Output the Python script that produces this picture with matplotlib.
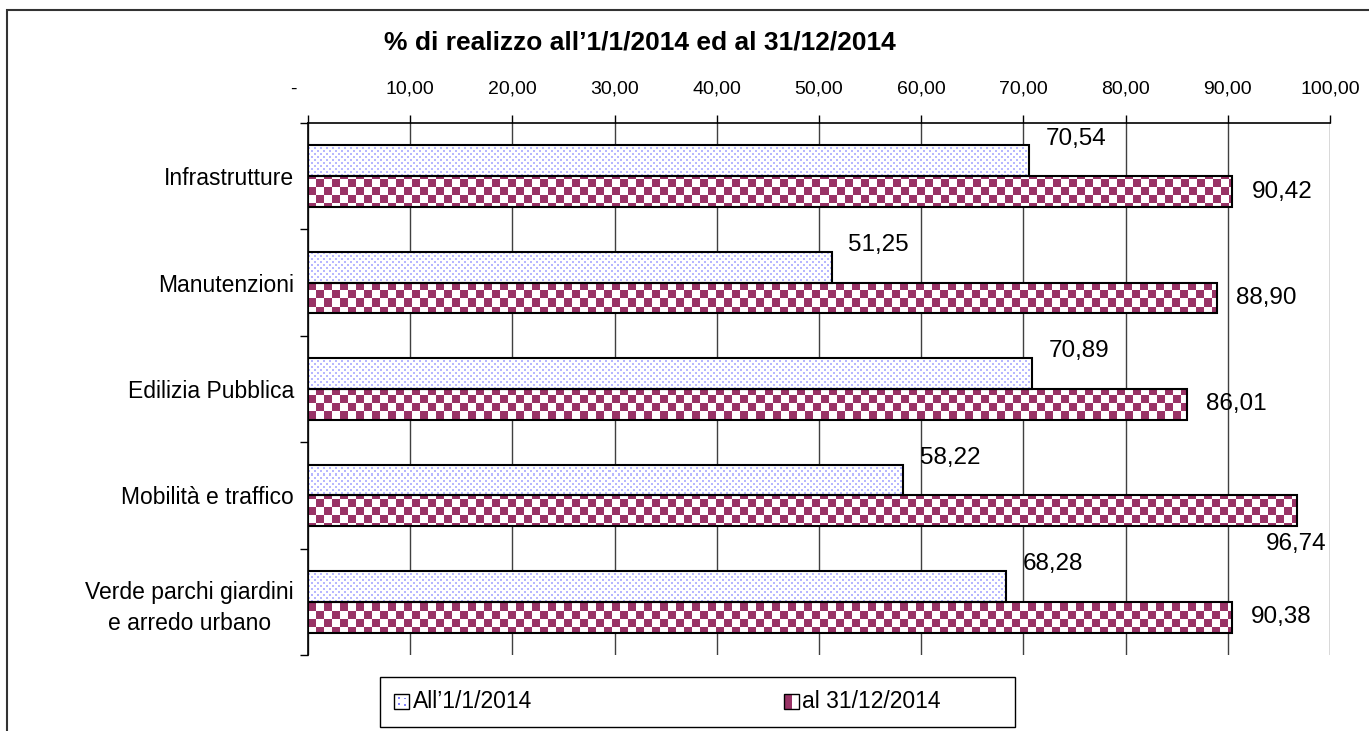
"""Bar chart: % di realizzo all'1/1/2014 ed al 31/12/2014."""
import numpy as np
import matplotlib
matplotlib.use("Agg")
import matplotlib.pyplot as plt
from matplotlib.patches import Rectangle, Patch
from matplotlib.ticker import FuncFormatter

plt.rcParams['font.family'] = ['Liberation Sans', 'DejaVu Sans']

# Data
categories = ['Infrastrutture', 'Manutenzioni', 'Edilizia Pubblica',
              'Mobilità e traffico', 'Verde parchi giardini\ne arredo urbano']
start_2014 = [70.54, 51.25, 70.89, 58.22, 68.28]
end_2014 = [90.42, 88.90, 86.01, 96.74, 90.38]
series_labels = ['All\u20191/1/2014', 'al 31/12/2014']
title = '% di realizzo all\u20191/1/2014 ed al 31/12/2014'

PLUM = (0.6, 0.2, 0.4)
DOT = (0.72, 0.72, 1.0)
W, H = 1369, 731
AX_L, AX_R, AX_T, AX_B = 308, 1330, 123, 655


def pattern_image(kind, h, w):
    """Pixel-sized fill pattern, as Excel draws it."""
    rr, cc = np.mgrid[0:h, 0:w]
    img = np.ones((h, w, 3))
    if kind == 'dots':
        r6, c6 = rr % 6, cc % 6
        mask = ((r6 < 2) & (c6 < 2)) | ((r6 >= 3) & (r6 < 5) & (c6 >= 3) & (c6 < 5))
        img[mask] = DOT
    else:
        mask = ((rr // 8 + cc // 8) % 2 == 0)
        img[mask] = PLUM
    return img


class PatternHandler:
    def __init__(self, kind):
        self.kind = kind

    def legend_artist(self, legend, orig_handle, fontsize, handlebox):
        x0, y0 = handlebox.xdescent, handlebox.ydescent
        s = min(handlebox.width, handlebox.height)
        tr = handlebox.get_transform()
        box = Rectangle((x0, y0), s, s, facecolor='none', edgecolor='black',
                        lw=1, transform=tr, zorder=3)
        if self.kind == 'checker':
            cells = [(0, s / 2, PLUM), (s / 2, s / 2, 'white'),
                     (0, 0, PLUM), (s / 2, 0, 'white')]
            for dx, dy, c in cells:
                handlebox.add_artist(Rectangle((x0 + dx, y0 + dy), s / 2, s / 2,
                                               facecolor=c, lw=0, transform=tr))
        else:
            handlebox.add_artist(Rectangle((x0, y0), s, s, facecolor='white',
                                           lw=0, transform=tr))
            for fx, fy in [(0.3, 0.3), (0.7, 0.7), (0.3, 0.75), (0.7, 0.25)]:
                handlebox.add_artist(Rectangle((x0 + fx * s - 0.7, y0 + fy * s - 0.7),
                                               1.4, 1.4, facecolor=(0.5, 0.5, 1.0),
                                               lw=0, transform=tr))
        handlebox.add_artist(box)
        return box


fig = plt.figure(figsize=(W / 100, H / 100), dpi=100)
ax = fig.add_axes((AX_L / W, 1 - AX_B / H, (AX_R - AX_L) / W, (AX_B - AX_T) / H))

y = np.arange(len(categories))
bh = 0.29
bars_a = ax.barh(y - bh / 2, start_2014, height=bh, facecolor='none',
                 edgecolor='black', lw=1.5, zorder=3)
bars_b = ax.barh(y + bh / 2, end_2014, height=bh, facecolor='none',
                 edgecolor='black', lw=1.5, zorder=3)

# pattern fills clipped to each bar
ph, pw = AX_B - AX_T, AX_R - AX_L
for bars, kind in [(bars_a, 'dots'), (bars_b, 'checker')]:
    img = pattern_image(kind, ph, pw)
    for bar in bars:
        im = ax.imshow(img, extent=(0, 100, 4.5, -0.5), aspect='auto',
                       interpolation='nearest', zorder=2)
        im.set_clip_path(bar)

ax.set_xlim(0, 100)
ax.set_ylim(4.5, -0.5)

# data labels
for i, v in enumerate(start_2014):
    ax.annotate(f'{v:.2f}'.replace('.', ','), (v, y[i] - bh / 2),
                xytext=(12, 16), textcoords='offset points',
                ha='left', va='center', fontsize=17.5)
for i, v in enumerate(end_2014):
    if v > 95:
        ax.annotate(f'{v:.2f}'.replace('.', ','), (v, y[i] + bh / 2),
                    xytext=(0, -24), textcoords='offset points',
                    ha='center', va='center', fontsize=17.5)
    else:
        ax.annotate(f'{v:.2f}'.replace('.', ','), (v, y[i] + bh / 2),
                    xytext=(14, 0), textcoords='offset points',
                    ha='left', va='center', fontsize=17.5)

# axes styling
ax.xaxis.tick_top()
ax.set_xticks(np.arange(0, 101, 10))
ax.xaxis.set_major_formatter(FuncFormatter(
    lambda v, p: '-     ' if v == 0 else f'{v:.2f}'.replace('.', ',')))
ax.tick_params(axis='x', length=6, width=1, pad=12, labelsize=14)
ax.set_yticks(y, categories)
ax.set_yticks(np.arange(-0.5, 5, 1), minor=True)
ax.tick_params(axis='y', which='major', length=0, pad=10, labelsize=16.5)
ax.tick_params(axis='y', which='minor', length=6, width=1)
for lbl in ax.get_yticklabels():
    lbl.set_multialignment('center')
    lbl.set_linespacing(1.45)
ax.grid(axis='x', color='#404040', lw=1)
ax.set_axisbelow(True)
for side in ['right', 'bottom']:
    ax.spines[side].set_visible(False)
ax.spines['top'].set_linewidth(1.2)
ax.spines['left'].set_linewidth(1.2)

fig.text(640 / W, 1 - 42 / H, title, ha='center', va='center',
         fontsize=19, fontweight='bold')

# legend with a plain frame
handles = [Patch(label=series_labels[0]), Patch(label=series_labels[1])]
fig.legend(handles=handles, ncol=2, loc='center left',
           bbox_to_anchor=(383 / W, 1 - 702 / H), frameon=False,
           handler_map={handles[0]: PatternHandler('dots'),
                        handles[1]: PatternHandler('checker')},
           handlelength=0.65, handleheight=0.65, handletextpad=0.15,
           columnspacing=11.0, fontsize=16.5, borderpad=0)
fig.patches.append(Rectangle((380 / W, 1 - 727 / H), 635 / W, 50 / H,
                             transform=fig.transFigure, fill=False,
                             edgecolor='black', lw=1))

# outer chart frame
fig.patches.append(Rectangle((7 / W, -0.1), 1.1, 1 - 10 / H + 0.1,
                             transform=fig.transFigure, fill=False,
                             edgecolor='#333333', lw=1.5))

fig.savefig('out.png', dpi=100)
